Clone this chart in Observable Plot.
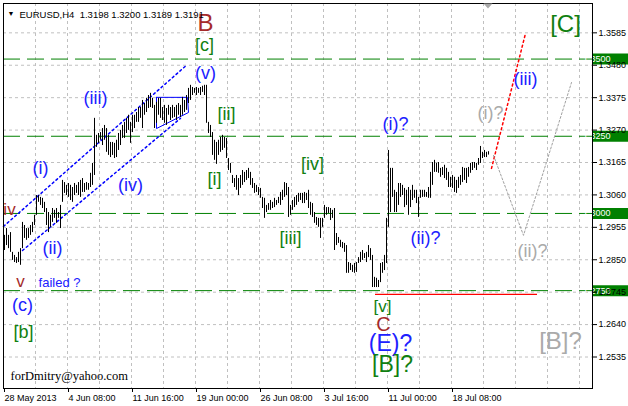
<!DOCTYPE html>
<html>
<head>
<meta charset="utf-8">
<script src="https://cdn.jsdelivr.net/npm/d3@7"></script>
<script src="https://cdn.jsdelivr.net/npm/@observablehq/plot@0.6"></script>
<style>
  html, body { margin: 0; padding: 0; background: #ffffff; }
  svg { display: block; }
</style>
</head>
<body>
<script>
// ---- H4 bars (bar index 0 = 28 May 2013), high / low prices ----
const highs = [
  1.2929,1.2951,1.2929,1.2938,1.2874,1.2864,1.2857,1.2874,1.2886,1.2971,
  1.2961,1.2951,1.2951,1.2961,1.2971,1.2994,1.3058,1.3058,1.3052,1.3049,
  1.3036,1.3016,1.3003,1.2994,1.3016,1.3010,1.3016,1.3003,1.3026,1.3107,
  1.3100,1.3091,1.3097,1.3091,1.3084,1.3097,1.3091,1.3100,1.3107,1.3113,
  1.3097,1.3100,1.3097,1.3130,1.3162,1.3308,1.3253,1.3259,1.3262,1.3275,
  1.3285,1.3275,1.3253,1.3230,1.3230,1.3227,1.3237,1.3259,1.3269,1.3285,
  1.3295,1.3308,1.3318,1.3295,1.3318,1.3318,1.3327,1.3343,1.3343,1.3366,
  1.3356,1.3373,1.3382,1.3389,1.3373,1.3350,1.3360,1.3373,1.3373,1.3343,
  1.3350,1.3340,1.3350,1.3343,1.3350,1.3343,1.3350,1.3356,1.3350,1.3376,
  1.3366,1.3382,1.3405,1.3415,1.3408,1.3405,1.3408,1.3405,1.3408,1.3412,
  1.3415,1.3415,1.3295,1.3285,1.3262,1.3237,1.3230,1.3237,1.3246,1.3253,
  1.3246,1.3243,1.3178,1.3162,1.3123,1.3113,1.3123,1.3113,1.3123,1.3139,
  1.3133,1.3139,1.3146,1.3133,1.3113,1.3097,1.3091,1.3084,1.3081,1.3052,
  1.3049,1.3026,1.3032,1.3042,1.3036,1.3049,1.3042,1.3052,1.3068,1.3075,
  1.3100,1.3097,1.3084,1.3026,1.3042,1.3052,1.3058,1.3065,1.3065,1.3065,
  1.3068,1.3065,1.3075,1.3036,1.3032,1.3003,1.2987,1.2984,1.2984,1.2984,
  1.3026,1.3019,1.3019,1.3016,1.3010,1.3016,1.2935,1.2922,1.2913,1.2906,
  1.2903,1.2896,1.2841,1.2838,1.2832,1.2838,1.2841,1.2857,1.2874,1.2880,
  1.2870,1.2874,1.2896,1.2886,1.2864,1.2793,1.2790,1.2783,1.2838,1.2841,
  1.2864,1.2984,1.3204,1.3146,1.3146,1.3075,1.3068,1.3097,1.3097,1.3091,
  1.3081,1.3075,1.3084,1.3075,1.3091,1.3075,1.3075,1.3052,1.3075,1.3075,
  1.3075,1.3068,1.3084,1.3133,1.3165,1.3172,1.3162,1.3165,1.3146,1.3149,
  1.3156,1.3146,1.3133,1.3117,1.3123,1.3117,1.3107,1.3117,1.3123,1.3149,
  1.3146,1.3146,1.3149,1.3162,1.3165,1.3165,1.3162,1.3178,1.3217,1.3198,
  1.3204,1.3198,1.3200
];
const lows = [
  1.2880,1.2896,1.2886,1.2874,1.2848,1.2841,1.2838,1.2841,1.2832,1.2886,
  1.2919,1.2913,1.2919,1.2929,1.2938,1.2961,1.2994,1.3036,1.3026,1.3016,
  1.3003,1.2961,1.2938,1.2955,1.2971,1.2984,1.2968,1.2984,1.2951,1.3036,
  1.3065,1.3058,1.3052,1.3042,1.3036,1.3058,1.3065,1.3058,1.3052,1.3068,
  1.3068,1.3075,1.3075,1.3084,1.3091,1.3123,1.3214,1.3227,1.3237,1.3220,
  1.3237,1.3198,1.3188,1.3181,1.3188,1.3178,1.3181,1.3204,1.3220,1.3243,
  1.3243,1.3259,1.3269,1.3227,1.3262,1.3275,1.3295,1.3295,1.3308,1.3275,
  1.3318,1.3327,1.3340,1.3343,1.3340,1.3275,1.3292,1.3318,1.3308,1.3301,
  1.3292,1.3285,1.3318,1.3301,1.3308,1.3311,1.3301,1.3318,1.3311,1.3318,
  1.3327,1.3334,1.3356,1.3366,1.3382,1.3389,1.3382,1.3389,1.3382,1.3392,
  1.3382,1.3292,1.3259,1.3246,1.3188,1.3172,1.3159,1.3188,1.3198,1.3204,
  1.3211,1.3178,1.3139,1.3130,1.3097,1.3084,1.3075,1.3058,1.3081,1.3091,
  1.3100,1.3107,1.3113,1.3091,1.3081,1.3065,1.3068,1.3058,1.3049,1.3016,
  1.2984,1.3003,1.3010,1.3010,1.3016,1.3019,1.3026,1.3032,1.3026,1.3042,
  1.3052,1.3058,1.2987,1.2994,1.3010,1.3019,1.3026,1.3036,1.3042,1.3032,
  1.3032,1.3042,1.3016,1.2994,1.2987,1.2968,1.2961,1.2955,1.2919,1.2955,
  1.2984,1.2994,1.3000,1.2977,1.2984,1.2880,1.2896,1.2903,1.2890,1.2886,
  1.2874,1.2806,1.2806,1.2815,1.2809,1.2806,1.2809,1.2838,1.2841,1.2848,
  1.2854,1.2841,1.2857,1.2848,1.2760,1.2760,1.2760,1.2760,1.2776,1.2806,
  1.2815,1.2838,1.2955,1.3003,1.3052,1.3003,1.3003,1.3026,1.3052,1.3058,
  1.3019,1.3026,1.2994,1.3019,1.3042,1.3049,1.3032,1.2987,1.3049,1.3052,
  1.3052,1.3052,1.3049,1.3049,1.3091,1.3133,1.3133,1.3130,1.3117,1.3123,
  1.3113,1.3107,1.3084,1.3084,1.3081,1.3068,1.3065,1.3081,1.3091,1.3100,
  1.3107,1.3097,1.3117,1.3130,1.3139,1.3146,1.3139,1.3156,1.3162,1.3178,
  1.3181,1.3181,1.3189
];

// ---- header quote (open, high, low, close of the last bar) ----
const symbolName = "EURUSD,H4";
const lastQuote = [1.3198, 1.3200, 1.3189, 1.3191];

// ---- axes ----
const xTickBars = [-0.5, 31.5, 63.5, 95.5, 127.5, 159.5, 191.5, 223.5];
const xTickLabels = ["28 May 2013", "4 Jun 08:00", "11 Jun 16:00", "19 Jun 00:00",
                     "26 Jun 08:00", "3 Jul 16:00", "11 Jul 00:00", "18 Jul 08:00"];
const gridBars = [15.5, 31.5, 47.5, 63.5, 79.5, 95.5, 111.5, 127.5, 143.5,
                  159.5, 175.5, 191.5, 207.5, 223.5, 239.5, 255.5, 271.5, 287.5];
const yTicks = [1.3585, 1.3480, 1.3375, 1.3270, 1.3165, 1.3060, 1.2955,
                1.2850, 1.2745, 1.2640, 1.2535];

// ---- horizontal levels ----
const levelPrices = [1.3500, 1.3250, 1.3000, 1.2750];
const supportBars = [185.5, 266.5];
const supportPrice = 1.2738;

// ---- drawn trend lines (bar index, price) ----
const channelUpperBars = [-0.5, 91];
const channelUpperPrices = [1.2958, 1.3480];
const channelLowerBars = [9, 88];
const channelLowerPrices = [1.2880, 1.3308];
const triangleBars = [76, 91.5, 92, 76, 76];
const trianglePrices = [1.3376, 1.3376, 1.3327, 1.3275, 1.3376];
const redProjBars = [243.5, 260.5];
const redProjPrices = [1.3146, 1.3583];
const grayProjBars = [244.5, 259.5, 283.5];
const grayProjPrices = [1.3188, 1.2929, 1.3424];
const shiftMarkerBar = 241.75;

// ---- wave labels ----
const waveText  = ["B","[c]","(v)","(iii)","(i)","(ii)","(iv)","iv","v","failed ?","(c)","[b]",
                   "[ii]","[i]","[iii]","[iv]","(i)?","(ii)?","(i)?","(iii)","(ii)?","[C]","[B]?",
                   "[v]","C","(E)?","[B]?"];
const waveBar   = [100.5,100,100.5,45.5,18,24,63,2.5,8,27.5,9,9.5,
                   111,105,143,154,195.5,210.5,243,260.5,264,280.5,278,
                   189,189.5,193,194];
const wavePrice = [1.3616,1.3544,1.3454,1.3373,1.3146,1.2887,1.3091,1.3013,1.2780,1.2776,1.2702,1.2614,
                   1.3321,1.3110,1.2919,1.3159,1.3288,1.2919,1.3324,1.3434,1.2877,1.3612,1.2585,
                   1.2697,1.2639,1.2579,1.2510];
const waveKind  = ["major","green","blue","blue","blue","blue","blue","red","red","note","blue","green",
                   "green","green","green","green","blue","blue","gray","blue","gray","greenBig","grayBig",
                   "greenStack","majorC","blueBig","greenStackBig"];
const watermark = "forDmitry@yahoo.com";
const watermarkBar = 3, watermarkPrice = 1.2475;

// ---- styles ----
const kindStyle = {
  major:        {fill: "#a52a2a", size: 24},
  majorC:       {fill: "#a52a2a", size: 20},
  red:          {fill: "#a52a2a", size: 17},
  green:        {fill: "#108010", size: 18},
  greenStack:   {fill: "#108010", size: 17},
  greenBig:     {fill: "#108010", size: 24},
  greenStackBig:{fill: "#108010", size: 23},
  blue:         {fill: "#2020ff", size: 18},
  blueBig:      {fill: "#2020ff", size: 23},
  note:         {fill: "#2020ff", size: 13},
  gray:         {fill: "#aaaaaa", size: 18},
  grayBig:      {fill: "#aaaaaa", size: 24}
};

const bars = highs.map((h, i) => ({i, high: h, low: lows[i]}));
const pts = (bs, ps) => bs.map((b, k) => ({b, p: ps[k]}));
const waves = waveText.map((t, k) => ({
  t, b: waveBar[k], p: wavePrice[k],
  fill: kindStyle[waveKind[k]].fill, size: kindStyle[waveKind[k]].size
}));
const labelByBar = new Map(xTickBars.map((b, k) => [b, xTickLabels[k]]));

const rectSymbol = {draw(c) { c.moveTo(-18, -5.5); c.lineTo(18, -5.5); c.lineTo(18, 5.5); c.lineTo(-18, 5.5); c.closePath(); }};
const downTriangle = {draw(c) { c.moveTo(-4.5, 0); c.lineTo(4.5, 0); c.lineTo(0, 5); c.closePath(); }};

const chart = Plot.plot({
  width: 628,
  height: 406,
  marginLeft: 3,
  marginRight: 36,
  marginTop: 3,
  marginBottom: 18,
  x: {type: "linear", domain: [-0.5, 294], axis: null},
  y: {type: "linear", domain: [1.2433, 1.3680], axis: null},
  color: {type: "identity"},
  style: {background: "#ffffff", fontFamily: "'Liberation Sans', Arial, sans-serif", fontSize: "9px", color: "#000"},
  marks: [
    // grid
    Plot.ruleX(gridBars, {x: d => d, stroke: "#c0c0c0", strokeDasharray: "3,3"}),
    Plot.ruleY(yTicks, {y: d => d, stroke: "#c0c0c0", strokeDasharray: "3,3"}),
    // key levels
    Plot.ruleY(levelPrices, {y: d => d, stroke: "#008000", strokeDasharray: "17,7"}),
    Plot.ruleY([supportPrice], {y: d => d, x1: supportBars[0], x2: supportBars[1], stroke: "#ff0000", strokeWidth: 1.2}),
    // channel & triangle
    Plot.line(pts(channelUpperBars, channelUpperPrices), {x: "b", y: "p", stroke: "#0000ff", strokeDasharray: "2,3"}),
    Plot.line(pts(channelLowerBars, channelLowerPrices), {x: "b", y: "p", stroke: "#0000ff", strokeDasharray: "2,3"}),
    Plot.line(pts(triangleBars, trianglePrices), {x: "b", y: "p", stroke: "#0000ff", strokeWidth: 1}),
    // price bars
    Plot.ruleX(bars, {x: "i", y1: "low", y2: "high", stroke: "#000", strokeWidth: 1}),
    // projections
    Plot.line(pts(redProjBars, redProjPrices), {x: "b", y: "p", stroke: "#ff0000", strokeWidth: 1.5, strokeDasharray: "2,3"}),
    Plot.line(pts(grayProjBars, grayProjPrices), {x: "b", y: "p", stroke: "#a0a0a0", strokeWidth: 1, strokeDasharray: "2,2"}),
    // wave labels
    Plot.text(waves, {x: "b", y: "p", text: "t", fill: "fill", fontSize: "size",
      fontFamily: "'Liberation Sans', Arial, sans-serif"}),
    Plot.text([watermark], {x: () => watermarkBar, y: () => watermarkPrice, text: d => d, textAnchor: "start",
      fontFamily: "'Liberation Serif', 'Times New Roman', serif", fontSize: 12.5, fill: "#000"}),
    // level boxes on the price axis
    Plot.dot(levelPrices, {y: d => d, frameAnchor: "right", dx: 18, symbol: rectSymbol, fill: "#008000", stroke: null}),
    Plot.text(levelPrices, {y: d => d, text: d => d.toFixed(4), frameAnchor: "right", dx: 18, fill: "#ffffff", fontSize: 9}),
    // axes
    Plot.axisY(yTicks, {anchor: "right", tickFormat: d => d.toFixed(4), tickSize: 4, tickPadding: 2, fontSize: 9, label: null}),
    Plot.axisX(xTickBars, {anchor: "bottom", tickFormat: d => labelByBar.get(d), textAnchor: "start",
      tickSize: 4, tickPadding: 2, dx: 1, fontSize: 9, label: null}),
    Plot.frame({stroke: "#000"}),
    // header & shift marker
    Plot.text(["\u25BC"], {text: d => d, frameAnchor: "top-left", dx: 4, dy: 8, textAnchor: "start", fontSize: 7, fill: "#000"}),
    Plot.text([symbolName + "  " + lastQuote.map(v => v.toFixed(4)).join(" ")],
      {text: d => d, frameAnchor: "top-left", dx: 16, dy: 8, textAnchor: "start", fontSize: 9.5, fill: "#000"}),
    Plot.dot([shiftMarkerBar], {x: d => d, frameAnchor: "top", symbol: downTriangle, fill: "#a8a8a8", stroke: null})
  ]
});
document.body.appendChild(chart);
</script>
</body>
</html>
